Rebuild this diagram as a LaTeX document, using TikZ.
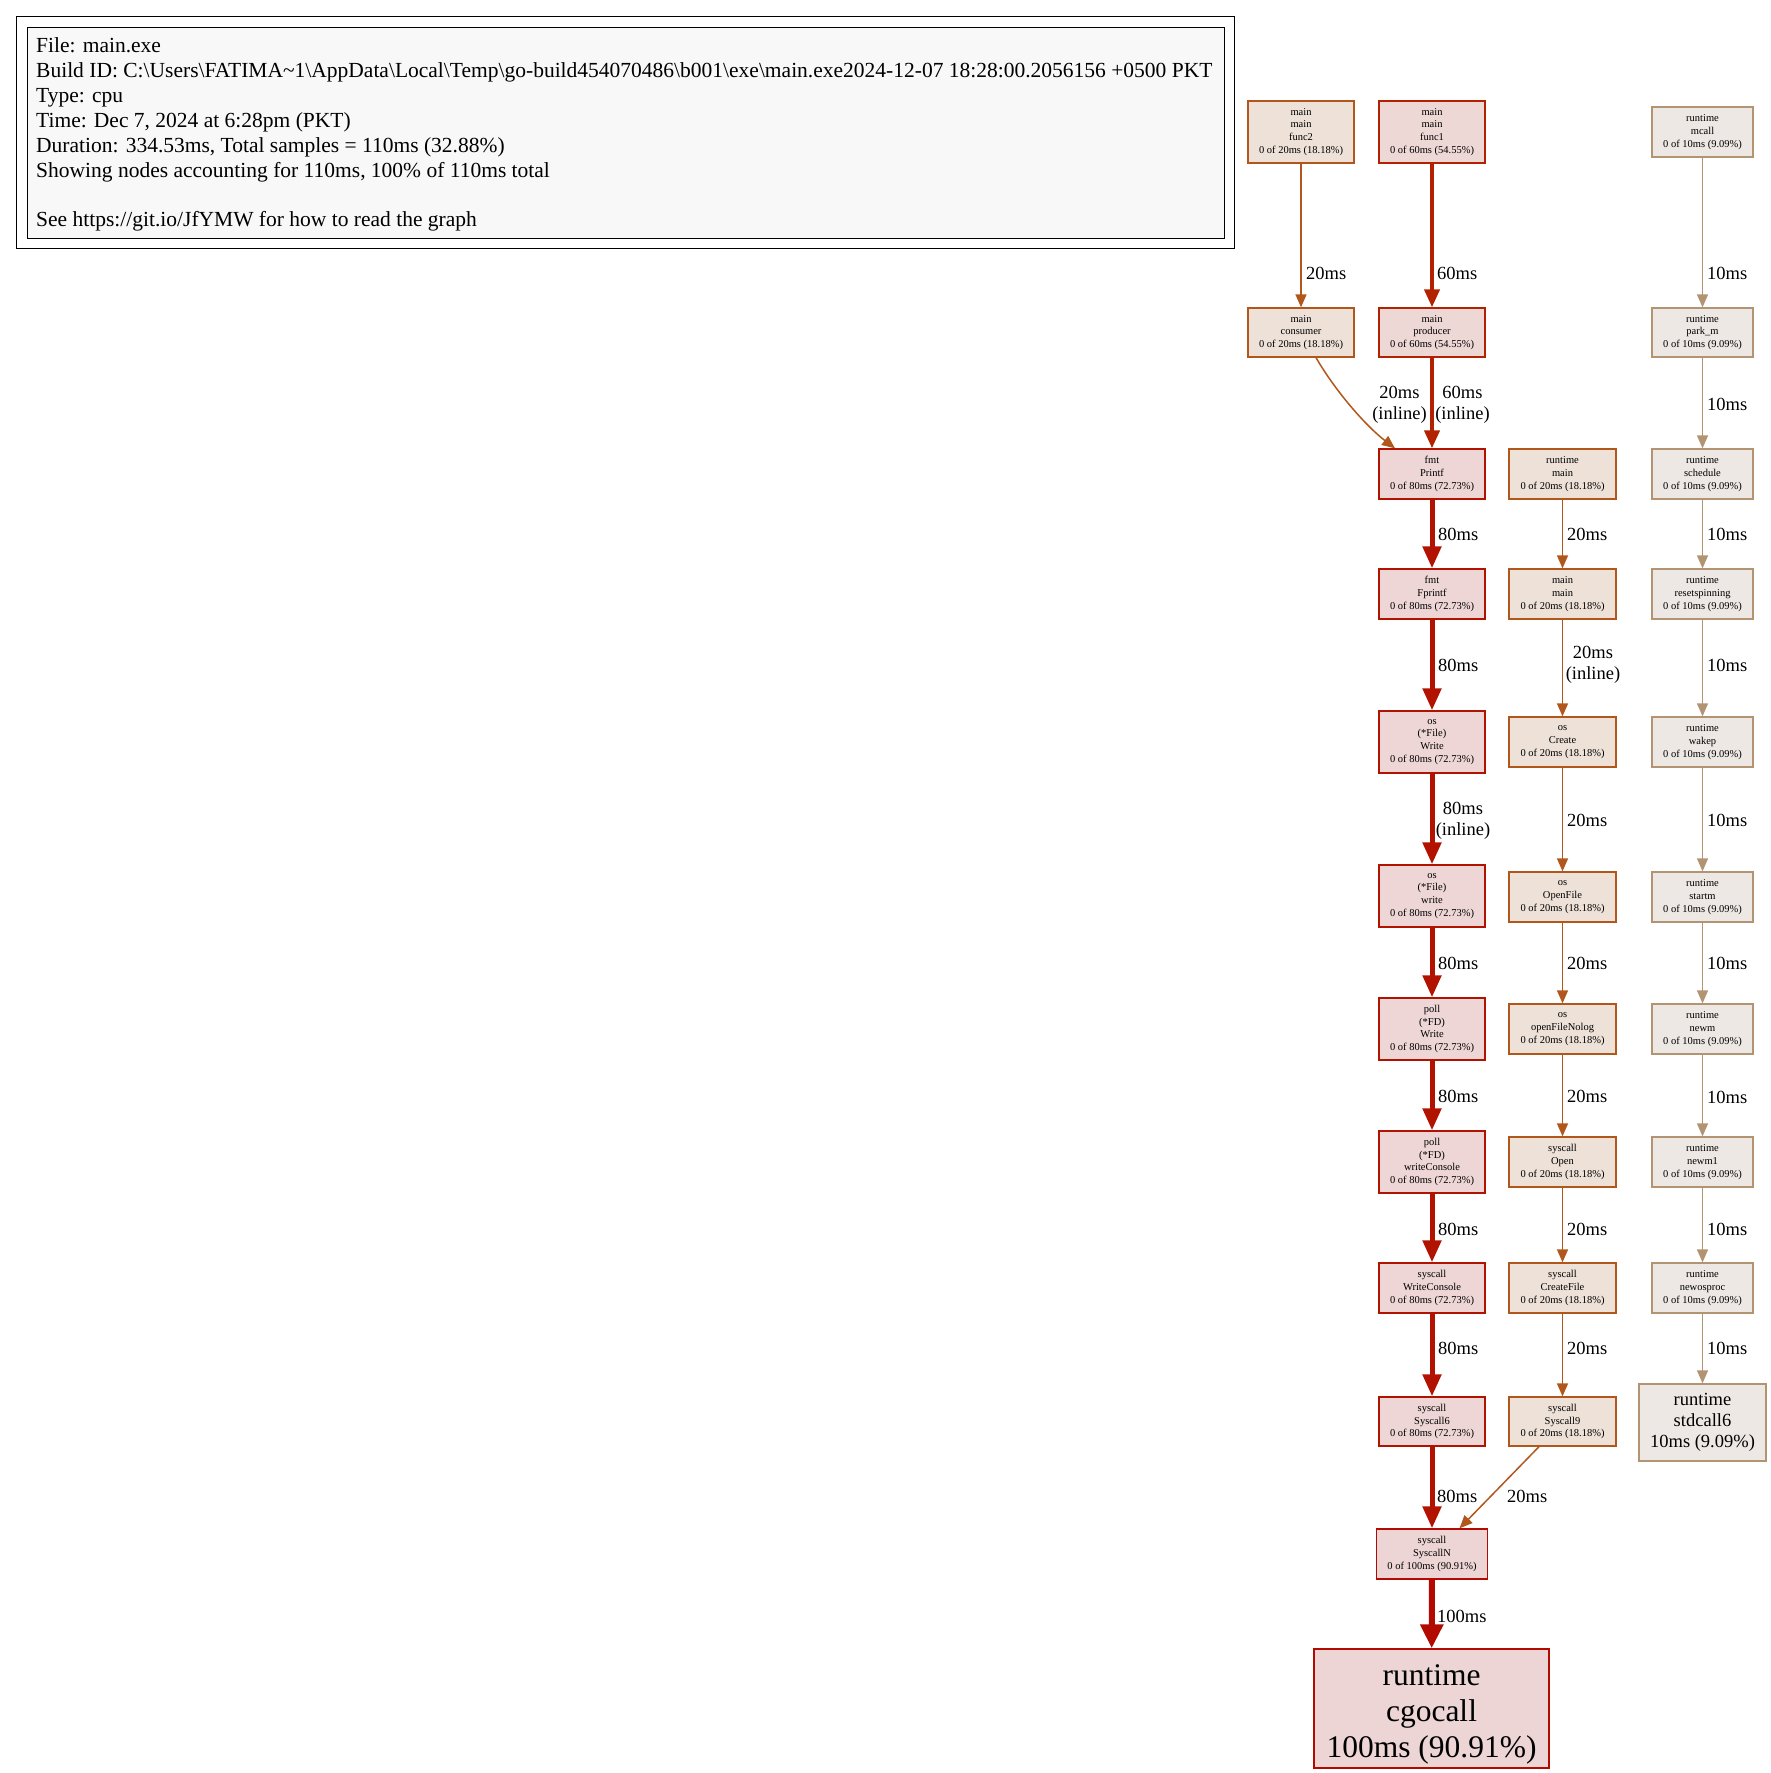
\documentclass[tikz,border=0pt]{standalone}
\usepackage{fontspec}
\setmainfont{Liberation Serif}
\usetikzlibrary{arrows.meta,calc}

% node border / fill colours by weight
\definecolor{bdA}{HTML}{B20A00}\definecolor{flA}{HTML}{EDD5D5}
\definecolor{bdB}{HTML}{B21200}\definecolor{flB}{HTML}{EDD6D5}
\definecolor{bdC}{HTML}{B22200}\definecolor{flC}{HTML}{EDD8D5}
\definecolor{bdD}{HTML}{B2571C}\definecolor{flD}{HTML}{EDE1D8}
\definecolor{bdE}{HTML}{B29372}\definecolor{flE}{HTML}{EDE8E3}
\definecolor{legendgray}{HTML}{F8F8F8}

\begin{document}
\begin{tikzpicture}[x=1pt,y=-1pt,
  fn/.style={draw, rectangle, inner sep=0pt, align=center, line width=1.3pt,
    font=\fontsize{10.5pt}{12.8pt}\selectfont},
  three/.style={minimum height=50pt},
  four/.style={minimum height=62pt},
  wL/.style={minimum width=106pt},
  wM/.style={minimum width=107pt},
  wR/.style={minimum width=101pt},
  hotA/.style={fn, draw=bdA, fill=flA},
  hotB/.style={fn, draw=bdB, fill=flB},
  hotC/.style={fn, draw=bdC, fill=flC},
  warm/.style={fn, draw=bdD, fill=flD},
  cool/.style={fn, draw=bdE, fill=flE},
  eA/.style={draw=bdA, line width=6pt, -{Triangle[length=24pt,width=22pt]}},
  eB/.style={draw=bdB, line width=5pt, -{Triangle[length=22pt,width=18pt]}},
  eC/.style={draw=bdC, line width=4pt, -{Triangle[length=18pt,width=15pt]}},
  eD/.style={draw=bdD, line width=1.5pt, -{Triangle[length=13pt,width=11pt]}},
  eE/.style={draw=bdE, line width=1.3pt, -{Triangle[length=13pt,width=11pt]}},
  lbl/.style={inner sep=0pt, align=center, font=\fontsize{18.5pt}{21pt}\selectfont},
]
\useasboundingbox (0,0) rectangle (1771,1773);

% ---- legend ----
\node[draw, line width=1.3pt, inner sep=0pt, minimum width=1218pt, minimum height=232pt,
  anchor=north west] (legendframe) at (16,16) {};
\node[draw, line width=1.3pt, fill=legendgray, inner sep=0pt, minimum width=1197pt,
  minimum height=210.5pt, anchor=north west] (legendbox) at (27,27) {};
\node[anchor=north west, inner sep=0pt, align=left,
  font=\fontsize{21.5pt}{24.9pt}\selectfont] (legendtext) at (36,37.5) {%
File: main.exe\\
Build ID: C:\textbackslash Users\textbackslash FATIMA\textasciitilde 1\textbackslash AppData\textbackslash Local\textbackslash Temp\textbackslash go-build454070486\textbackslash b001\textbackslash exe\textbackslash main.exe2024-12-07 18:28:00.2056156 +0500 PKT\\
Type: cpu\\
Time: Dec 7, 2024 at 6:28pm (PKT)\\
Duration: 334.53ms, Total samples = 110ms (32.88\%)\\
Showing nodes accounting for 110ms, 100\% of 110ms total\\[24.9pt]
See https://git.io/JfYMW for how to read the graph};

% ---- producer chain ----
\node[hotC, wL, four] (func1) at (1432,132) {main\\main\\func1\\0 of 60ms (54.55\%)};
\node[hotC, wL, minimum height=49pt] (producer) at (1432,332.5) {main\\producer\\0 of 60ms (54.55\%)};
\node[hotB, wL, three] (printf) at (1432,474) {fmt\\Printf\\0 of 80ms (72.73\%)};
\node[hotB, wL, three] (fprintf) at (1432,594) {fmt\\Fprintf\\0 of 80ms (72.73\%)};
\node[hotB, wL, four] (fileWrite) at (1432,742) {os\\(*File)\\Write\\0 of 80ms (72.73\%)};
\node[hotB, wL, four] (filewrite) at (1432,896) {os\\(*File)\\write\\0 of 80ms (72.73\%)};
\node[hotB, wL, four] (pollWrite) at (1432,1029) {poll\\(*FD)\\Write\\0 of 80ms (72.73\%)};
\node[hotB, wL, four] (pollConsole) at (1432,1162) {poll\\(*FD)\\writeConsole\\0 of 80ms (72.73\%)};
\node[hotB, wL, three] (sysConsole) at (1432,1288) {syscall\\WriteConsole\\0 of 80ms (72.73\%)};
\node[hotB, wL, minimum height=49pt] (sys6) at (1432,1421.5) {syscall\\Syscall6\\0 of 80ms (72.73\%)};
\node[hotA, minimum width=111pt, three] (sysN) at (1432,1554) {syscall\\SyscallN\\0 of 100ms (90.91\%)};
\node[hotA, minimum width=235pt, minimum height=119pt,
  label={[inner sep=0pt, align=center, yshift=-5.5pt,
    font=\fontsize{31.5pt}{36pt}\selectfont]center:runtime\\cgocall\\100ms (90.91\%)}]
  (cgocall) at (1431.5,1708.5) {};

% ---- consumer ----
\node[warm, wL, four] (func2) at (1301,132) {main\\main\\func2\\0 of 20ms (18.18\%)};
\node[warm, wL, minimum height=49pt] (consumer) at (1301,332.5) {main\\consumer\\0 of 20ms (18.18\%)};

% ---- file creation chain ----
\node[warm, wM, three] (rtmain) at (1562.5,474) {runtime\\main\\0 of 20ms (18.18\%)};
\node[warm, wM, three] (mainmain) at (1562.5,594) {main\\main\\0 of 20ms (18.18\%)};
\node[warm, wM, three] (create) at (1562.5,742) {os\\Create\\0 of 20ms (18.18\%)};
\node[warm, wM, three] (openfile) at (1562.5,897) {os\\OpenFile\\0 of 20ms (18.18\%)};
\node[warm, wM, three] (nolog) at (1562.5,1029) {os\\openFileNolog\\0 of 20ms (18.18\%)};
\node[warm, wM, three] (sysopen) at (1562.5,1162) {syscall\\Open\\0 of 20ms (18.18\%)};
\node[warm, wM, three] (createfile) at (1562.5,1288) {syscall\\CreateFile\\0 of 20ms (18.18\%)};
\node[warm, wM, minimum height=49pt] (sys9) at (1562.5,1421.5) {syscall\\Syscall9\\0 of 20ms (18.18\%)};

% ---- scheduler chain ----
\node[cool, wR, three] (mcall) at (1702.5,132) {runtime\\mcall\\0 of 10ms (9.09\%)};
\node[cool, wR, minimum height=49pt] (parkm) at (1702.5,332.5) {runtime\\park\_m\\0 of 10ms (9.09\%)};
\node[cool, wR, three] (schedule) at (1702.5,474) {runtime\\schedule\\0 of 10ms (9.09\%)};
\node[cool, wR, three] (resetspin) at (1702.5,594) {runtime\\resetspinning\\0 of 10ms (9.09\%)};
\node[cool, wR, three] (wakep) at (1702.5,742) {runtime\\wakep\\0 of 10ms (9.09\%)};
\node[cool, wR, three] (startm) at (1702.5,897) {runtime\\startm\\0 of 10ms (9.09\%)};
\node[cool, wR, three] (newm) at (1702.5,1029) {runtime\\newm\\0 of 10ms (9.09\%)};
\node[cool, wR, three] (newm1) at (1702.5,1162) {runtime\\newm1\\0 of 10ms (9.09\%)};
\node[cool, wR, three] (newosproc) at (1702.5,1288) {runtime\\newosproc\\0 of 10ms (9.09\%)};
\node[cool, minimum width=127pt, minimum height=77pt,
  font=\fontsize{18.5pt}{21pt}\selectfont] (stdcall6) at (1702.5,1422.5) {runtime\\stdcall6\\10ms (9.09\%)};

% ---- edges: producer chain ----
\draw[eC] (func1) -- (producer);
\draw[eC] (producer) -- (printf);
\draw[eB] (printf) -- (fprintf);
\draw[eB] (fprintf) -- (fileWrite);
\draw[eB] (fileWrite) -- (filewrite);
\draw[eB] (filewrite) -- (pollWrite);
\draw[eB] (pollWrite) -- (pollConsole);
\draw[eB] (pollConsole) -- (sysConsole);
\draw[eB] (sysConsole) -- (sys6);
\draw[eB] (sys6) -- (sysN);
\draw[eA] (sysN) -- (cgocall);

% ---- edges: consumer ----
\draw[eD] (func2) -- (consumer);
\draw[eD] ($(consumer.south)+(15,0)$) .. controls (1336,392) and (1366,426) .. ($(printf.north)+(-37,0)$);

% ---- edges: file creation chain ----
\draw[eD] (rtmain) -- (mainmain);
\draw[eD] (mainmain) -- (create);
\draw[eD] (create) -- (openfile);
\draw[eD] (openfile) -- (nolog);
\draw[eD] (nolog) -- (sysopen);
\draw[eD] (sysopen) -- (createfile);
\draw[eD] (createfile) -- (sys9);
\draw[eD] ($(sys9.south)+(-23.5,0)$) -- ($(sysN.north)+(27.5,0)$);

% ---- edges: scheduler chain ----
\draw[eE] (mcall) -- (parkm);
\draw[eE] (parkm) -- (schedule);
\draw[eE] (schedule) -- (resetspin);
\draw[eE] (resetspin) -- (wakep);
\draw[eE] (wakep) -- (startm);
\draw[eE] (startm) -- (newm);
\draw[eE] (newm) -- (newm1);
\draw[eE] (newm1) -- (newosproc);
\draw[eE] (newosproc) -- (stdcall6);

% ---- edge labels ----
\node[lbl, anchor=west] (l1) at (1306,273) {20ms};
\node[lbl, anchor=west] (l2) at (1437,273) {60ms};
\node[lbl, anchor=west] (l3) at (1707,273) {10ms};
\node[lbl] (l4) at (1399.5,404.5) {20ms\\(inline)};
\node[lbl] (l5) at (1462.5,404.5) {60ms\\(inline)};
\node[lbl, anchor=west] (l6) at (1707,404) {10ms};
\node[lbl, anchor=west] (l7) at (1438,534) {80ms};
\node[lbl, anchor=west] (l8) at (1567,534) {20ms};
\node[lbl, anchor=west] (l9) at (1707,534) {10ms};
\node[lbl, anchor=west] (l10) at (1438,665) {80ms};
\node[lbl] (l11) at (1593,665) {20ms\\(inline)};
\node[lbl, anchor=west] (l12) at (1707,665) {10ms};
\node[lbl] (l13) at (1463,820.5) {80ms\\(inline)};
\node[lbl, anchor=west] (l14) at (1567,820) {20ms};
\node[lbl, anchor=west] (l15) at (1707,820) {10ms};
\node[lbl, anchor=west] (l16) at (1438,963) {80ms};
\node[lbl, anchor=west] (l17) at (1567,963) {20ms};
\node[lbl, anchor=west] (l18) at (1707,963) {10ms};
\node[lbl, anchor=west] (l19) at (1438,1096) {80ms};
\node[lbl, anchor=west] (l20) at (1567,1096) {20ms};
\node[lbl, anchor=west] (l21) at (1707,1097) {10ms};
\node[lbl, anchor=west] (l22) at (1438,1229) {80ms};
\node[lbl, anchor=west] (l23) at (1567,1229) {20ms};
\node[lbl, anchor=west] (l24) at (1707,1229) {10ms};
\node[lbl, anchor=west] (l25) at (1438,1348) {80ms};
\node[lbl, anchor=west] (l26) at (1567,1348) {20ms};
\node[lbl, anchor=west] (l27) at (1707,1348) {10ms};
\node[lbl, anchor=west] (l28) at (1437,1496) {80ms};
\node[lbl, anchor=west] (l29) at (1507,1496) {20ms};
\node[lbl, anchor=west] (l30) at (1437,1616) {100ms};
\end{tikzpicture}
\end{document}
